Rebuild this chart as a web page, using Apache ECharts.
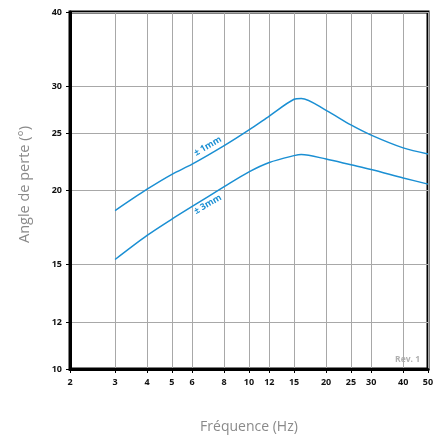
<!DOCTYPE html>
<html><head><meta charset="utf-8">
<script src="https://cdn.jsdelivr.net/npm/echarts@6/dist/echarts.min.js"></script>
<style>html,body{margin:0;padding:0;background:#fff}#c{width:441px;height:437px}</style>
</head><body><div id="c"></div>
<script>
var freqs = [3, 4, 5, 6, 8, 10, 12, 15, 16, 20, 25, 30, 40, 50];
var curve1mm = [18.5, 20.1, 21.3, 22.15, 23.8, 25.3, 26.7, 28.5, 28.6, 27.3, 25.8, 24.8, 23.6, 23.05];
var curve3mm = [15.3, 16.8, 17.9, 18.8, 20.3, 21.5, 22.3, 22.9, 23.0, 22.6, 22.1, 21.7, 21.0, 20.5];
var xTicks = [2, 3, 4, 5, 6, 8, 10, 12, 15, 20, 25, 30, 40, 50];
var yTicks = [10, 12, 15, 20, 25, 30, 40];
var label1 = {name: '± 1mm', x: 6.9, y: 23.75};
var label3 = {name: '± 3mm', x: 6.9, y: 18.95};

var blue = '#1a8fd3';
function pairs(xs, ys){ return xs.map(function(x,i){return [x, ys[i]];}); }
var tickFont = {fontFamily:'Open Sans', fontWeight:'bold', fontSize:9, color:'#111'};
var curveLabel = {show:true, formatter:'{c}', position:'inside', rotate:30, color:blue, fontFamily:'Open Sans', fontWeight:'bold', fontSize:9};

var chart = echarts.init(document.getElementById('c'), null, {renderer:'canvas'});
chart.setOption({
  animation:false,
  grid:{left:70, top:12, right:13, bottom:68, show:true, borderColor:'#000', borderWidth:3, backgroundColor:'transparent', containLabel:false, outerBoundsMode:'none'},
  xAxis:{
    type:'log', logBase:10, min:2, max:50,
    name:'Fréquence (Hz)', nameLocation:'middle', nameGap:51,
    nameTextStyle:{fontFamily:'Open Sans', fontSize:14, color:'#8a8a8a'},
    axisLine:{show:true, lineStyle:{color:'#000', width:3}},
    axisTick:{show:true, customValues:xTicks, length:4, lineStyle:{color:'#000', width:1}},
    axisLabel:Object.assign({customValues:xTicks, margin:9}, tickFont),
    splitLine:{show:true, lineStyle:{color:'#a8a8a8', width:1}},
    minorTick:{show:false}, minorSplitLine:{show:false}
  },
  yAxis:{
    type:'log', logBase:10, min:10, max:40,
    name:'Angle de perte (°)', nameLocation:'middle', nameGap:38, nameRotate:90,
    nameTextStyle:{fontFamily:'Open Sans', fontSize:14.5, color:'#8a8a8a', padding:[0,0,0,12]},
    axisLine:{show:true, lineStyle:{color:'#000', width:3}},
    axisTick:{show:true, customValues:yTicks, length:4, lineStyle:{color:'#000', width:1}},
    axisLabel:Object.assign({customValues:yTicks, margin:8}, tickFont),
    splitLine:{show:true, lineStyle:{color:'#a8a8a8', width:1}},
    minorTick:{show:false}, minorSplitLine:{show:false}
  },
  series:[
    {type:'line', data:pairs(freqs, curve1mm), smooth:0.3, symbol:'none', lineStyle:{color:blue, width:1.5}, z:5,
     markPoint:{symbol:'circle', symbolSize:0, silent:true,
       data:[{coord:[label1.x, label1.y], value:label1.name}], label:curveLabel}},
    {type:'line', data:pairs(freqs, curve3mm), smooth:0.3, symbol:'none', lineStyle:{color:blue, width:1.5}, z:5,
     markPoint:{symbol:'circle', symbolSize:0, silent:true,
       data:[{coord:[label3.x, label3.y], value:label3.name}], label:curveLabel}}
  ],
  graphic:[{type:'text', right:21, top:355, style:{text:'Rev. 1', fill:'#b0b0b0', font:'bold 8.5px "Open Sans"'}}]
});
</script></body></html>
